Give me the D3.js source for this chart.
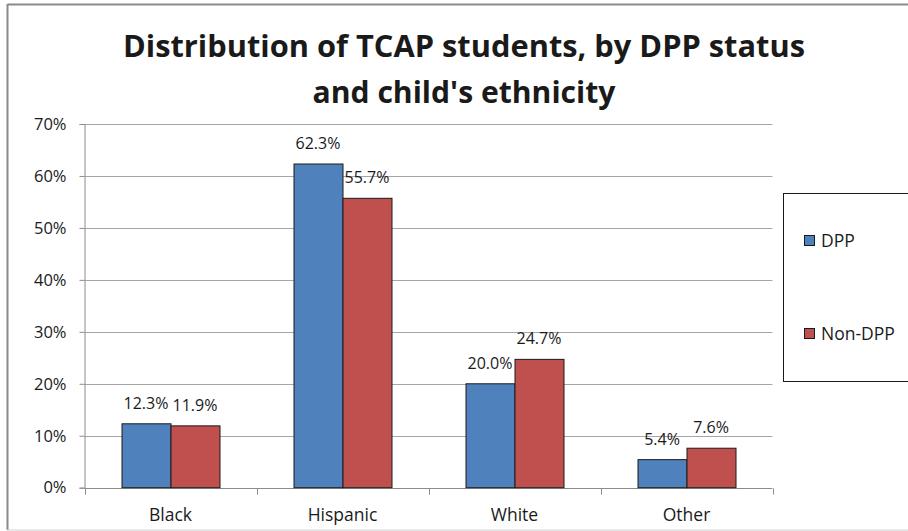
<!DOCTYPE html>
<html>
<head>
<meta charset="utf-8">
<script src="https://cdn.jsdelivr.net/npm/d3@7/dist/d3.min.js"></script>
<style>
  html, body { margin: 0; padding: 0; background: #fff; }
  svg { display: block; }
  text { font-family: "Open Sans", "Liberation Sans", sans-serif; fill: #1a1a1a; }
</style>
</head>
<body>
<svg id="chart" width="908" height="531"></svg>
<script>
// Chart data
const categories = ["Black", "Hispanic", "White", "Other"];
const seriesNames = ["DPP", "Non-DPP"];
const dppValues = [12.3, 62.3, 20.0, 5.4];
const nonDppValues = [11.9, 55.7, 24.7, 7.6];
const yTicks = [0, 10, 20, 30, 40, 50, 60, 70];
const titleLines = ["Distribution of TCAP students, by DPP status", "and child's ethnicity"];

const colors = { "DPP": "#4F81BD", "Non-DPP": "#C0504D" };

const svg = d3.select("#chart");
const W = 908, H = 531;

// Outer frame of the chart area
svg.append("rect").attr("x", 0).attr("y", 0).attr("width", W).attr("height", H).attr("fill", "#fff");
svg.append("line").attr("x1", 7.5).attr("x2", W).attr("y1", 4.5).attr("y2", 4.5)
  .attr("stroke", "#8a8a8a").attr("stroke-width", 2);
svg.append("line").attr("x1", 7.5).attr("x2", 7.5).attr("y1", 4).attr("y2", 530)
  .attr("stroke", "#8a8a8a").attr("stroke-width", 2);
svg.append("line").attr("x1", 7).attr("x2", W).attr("y1", 530).attr("y2", 530)
  .attr("stroke", "#d0d0d0").attr("stroke-width", 1);

// Plot area
const plot = { left: 84.5, right: 772.5, top: 124, bottom: 487.7 };

const x = d3.scaleBand().domain(categories).range([plot.left, plot.right]).paddingInner(0).paddingOuter(0);
const y = d3.scaleLinear().domain([0, 70]).range([plot.bottom, plot.top]);
const groupWidth = 98;
const xs = d3.scaleBand().domain(seriesNames).range([0, groupWidth]).padding(0);

// Gridlines
svg.append("g").selectAll("line").data(yTicks.filter(d => d > 0)).join("line")
  .attr("x1", plot.left).attr("x2", plot.right)
  .attr("y1", d => Math.round(y(d)) + 0.5).attr("y2", d => Math.round(y(d)) + 0.5)
  .attr("stroke", "#a6a6a6").attr("stroke-width", 1);

// Y axis
const yAxis = svg.append("g").attr("transform", `translate(${plot.left},0)`)
  .call(d3.axisLeft(y).tickValues(yTicks).tickFormat(d => d + "%").tickSize(5).tickPadding(13));
yAxis.select(".domain").attr("stroke", "#8c8c8c");
yAxis.selectAll(".tick line").attr("stroke", "#8c8c8c");
yAxis.selectAll(".tick text").attr("font-size", 16.5).attr("fill", "#1a1a1a")
  .attr("font-family", "\"Open Sans\", sans-serif");

// X axis with tick marks at category boundaries
const xAxisG = svg.append("g").attr("transform", `translate(0,${Math.round(plot.bottom) + 0.5})`);
xAxisG.append("line").attr("x1", plot.left).attr("x2", plot.right).attr("stroke", "#8c8c8c");
const bounds = categories.map(c => x(c)).concat([x(categories[categories.length - 1]) + x.bandwidth()]);
xAxisG.selectAll("line.tk").data(bounds).join("line").attr("class", "tk")
  .attr("x1", d => Math.round(d) + 0.5).attr("x2", d => Math.round(d) + 0.5)
  .attr("y1", 0).attr("y2", 6).attr("stroke", "#8c8c8c");
xAxisG.selectAll("text").data(categories).join("text")
  .attr("x", d => x(d) + x.bandwidth() / 2).attr("y", 32)
  .attr("text-anchor", "middle").attr("font-size", 17.5).text(d => d);

// Bars
const rows = categories.map((c, i) => ({ cat: c, values: [
  { series: "DPP", value: dppValues[i] },
  { series: "Non-DPP", value: nonDppValues[i] }
]}));

const groups = svg.append("g").selectAll("g").data(rows).join("g")
  .attr("transform", d => `translate(${x(d.cat) + (x.bandwidth() - groupWidth) / 2},0)`);

groups.selectAll("rect").data(d => d.values).join("rect")
  .attr("x", d => xs(d.series) + 0.5)
  .attr("y", d => y(d.value))
  .attr("width", xs.bandwidth())
  .attr("height", d => y(0) - y(d.value))
  .attr("fill", d => colors[d.series])
  .attr("stroke", "#1a1a1a").attr("stroke-width", 1);

groups.selectAll("text").data(d => d.values).join("text")
  .attr("x", d => xs(d.series) + xs.bandwidth() / 2)
  .attr("y", d => y(d.value) - 15)
  .attr("text-anchor", "middle").attr("font-size", 16)
  .text(d => d.value.toFixed(1) + "%");

// Title
const titleG = svg.append("g");
const titleWidths = [682, 303];
titleG.selectAll("text").data(titleLines).join("text")
  .attr("x", 464).attr("y", (d, i) => 57 + i * 45.5)
  .attr("text-anchor", "middle").attr("font-size", 31).attr("font-weight", "bold")
  .attr("fill", "#000")
  .attr("textLength", (d, i) => titleWidths[i]).attr("lengthAdjust", "spacingAndGlyphs")
  .text(d => d);

// Legend
const legend = svg.append("g");
legend.append("rect").attr("x", 783.5).attr("y", 193.5).attr("width", 140).attr("height", 188)
  .attr("fill", "#fff").attr("stroke", "#1a1a1a").attr("stroke-width", 1);
const legendY = [241, 334];
seriesNames.forEach((s, i) => {
  legend.append("rect").attr("x", 804.5).attr("y", legendY[i] - 5.5).attr("width", 10).attr("height", 10)
    .attr("fill", colors[s]).attr("stroke", "#1a1a1a").attr("stroke-width", 1);
  legend.append("text").attr("x", 821).attr("y", legendY[i] + 6).attr("font-size", 17.5).text(s);
});
</script>
</body>
</html>
